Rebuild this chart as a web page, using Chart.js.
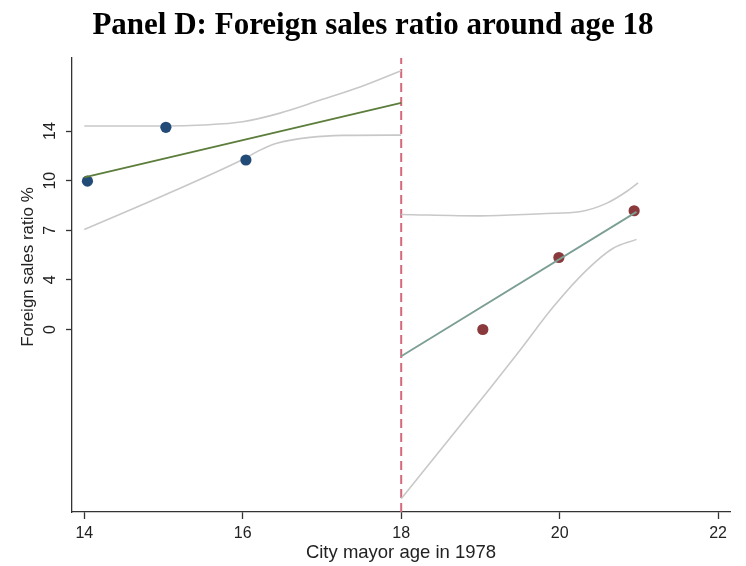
<!DOCTYPE html>
<html>
<head>
<meta charset="utf-8">
<title>Foreign sales ratio around age 18</title>
<script src="https://cdn.jsdelivr.net/npm/chart.js@4"></script>
<style>
  html, body { margin: 0; padding: 0; background: #fff; }
  #wrap { width: 746px; height: 566px; }
</style>
</head>
<body>
<div id="wrap"><canvas id="rdChart"></canvas></div>
<script>
// binned means, left and right of the cutoff
const ageLeft = [14.04, 15.03, 16.04];
const ratioLeft = [10.47, 14.27, 11.96];
const ageRight = [19.03, 19.99, 20.94];
const ratioRight = [0.0, 5.08, 8.38];

// linear fits on each side
const fitLeftAge = [14, 18];
const fitLeftRatio = [10.73, 16.0];
const fitRightAge = [18, 20.97];
const fitRightRatio = [-1.89, 8.3];

// confidence bands
const ciLeftUpperAge = [14, 15, 15.5, 16, 16.47, 16.98, 17.48, 18];
const ciLeftUpper = [14.36, 14.36, 14.43, 14.66, 15.27, 16.19, 17.11, 18.26];
const ciLeftLowerAge = [14, 15, 16, 16.22, 16.43, 16.85, 17.27, 18];
const ciLeftLower = [7.06, 9.46, 12.0, 12.66, 13.14, 13.56, 13.7, 13.72];
const ciRightUpperAge = [18, 19, 19.83, 20.25, 20.59, 20.84, 20.99];
const ciRightUpper = [8.12, 8.02, 8.19, 8.31, 8.9, 9.72, 10.35];
const ciRightLowerAge = [18, 19.12, 19.5, 19.92, 20.34, 20.67, 20.97];
const ciRightLower = [-11.94, -4.17, -1.46, 1.6, 4.19, 5.72, 6.36];

const cutoff = 18;

const xTicks = [14, 16, 18, 20, 22];
const yTicks = [0, 3.5, 7, 10.5, 14];
const yTickLabels = ['0', '4', '7', '10', '14'];

const X_MIN = 13.845, X_MAX = 22.15;
const Y_MIN = -12.88, Y_MAX = 19.16;

const SANS = '"Liberation Sans", Arial, sans-serif';

const pts = (xs, ys) => xs.map((x, i) => ({ x: x, y: ys[i] }));

const lineSet = (data, color, width) => ({
  data: data,
  showLine: true,
  borderColor: color,
  borderWidth: width,
  pointRadius: 0,
  cubicInterpolationMode: 'monotone',
  fill: false
});

const dotSet = (data, color) => ({
  data: data,
  showLine: false,
  backgroundColor: color,
  borderColor: color,
  borderWidth: 0,
  pointRadius: 5.6
});

// rotated y tick labels and the y title, drawn by hand
// (Chart.js won't rotate vertical tick labels)
const yLabelsPlugin = {
  id: 'yLabels',
  afterDraw(chart) {
    const ctx = chart.ctx;
    const y = chart.scales.y;
    ctx.save();
    ctx.fillStyle = '#222';
    ctx.textAlign = 'center';
    ctx.textBaseline = 'middle';
    ctx.font = '16px ' + SANS;
    yTicks.forEach((v, i) => {
      ctx.save();
      ctx.translate(51, y.getPixelForValue(v));
      ctx.rotate(-Math.PI / 2);
      ctx.fillText(yTickLabels[i], 0, 0);
      ctx.restore();
    });
    ctx.font = '17px ' + SANS;
    ctx.translate(28, 267);
    ctx.rotate(-Math.PI / 2);
    ctx.fillText('Foreign sales ratio %', 0, 0);
    ctx.restore();
  }
};

const cutoffSet = {
  data: [{ x: cutoff, y: Y_MIN }, { x: cutoff, y: Y_MAX }],
  showLine: true,
  borderColor: '#d4697b',
  borderWidth: 2,
  borderDash: [9, 5],
  pointRadius: 0
};

new Chart(document.getElementById('rdChart'), {
  type: 'scatter',
  data: {
    datasets: [
      lineSet(pts(fitLeftAge, fitLeftRatio), '#5c7d3b', 1.8),
      lineSet(pts(fitRightAge, fitRightRatio), '#7c9f95', 1.8),
      dotSet(pts(ageLeft, ratioLeft), '#234b78'),
      dotSet(pts(ageRight, ratioRight), '#8a3a3d'),
      lineSet(pts(ciLeftUpperAge, ciLeftUpper), '#c8c8c8', 1.6),
      lineSet(pts(ciLeftLowerAge, ciLeftLower), '#c8c8c8', 1.6),
      lineSet(pts(ciRightUpperAge, ciRightUpper), '#c8c8c8', 1.6),
      lineSet(pts(ciRightLowerAge, ciRightLower), '#c8c8c8', 1.6),
      cutoffSet
    ]
  },
  options: {
    responsive: true,
    maintainAspectRatio: false,
    animation: false,
    layout: { padding: { left: 16, right: 16, top: 0, bottom: 0 } },
    plugins: {
      legend: { display: false },
      tooltip: { enabled: false },
      title: {
        display: true,
        text: 'Panel D: Foreign sales ratio around age 18',
        color: '#000',
        font: { family: '"Liberation Serif", serif', size: 31, weight: 'bold' },
        padding: { top: 7, bottom: 13.8 }
      }
    },
    scales: {
      x: {
        type: 'linear',
        min: X_MIN,
        max: X_MAX,
        afterBuildTicks: s => { s.ticks = xTicks.map(v => ({ value: v })); },
        afterFit: s => { s.height = 54; },
        border: { color: '#333', width: 1.3 },
        grid: { drawOnChartArea: false, tickLength: 7, color: '#333', tickWidth: 1.3 },
        ticks: {
          color: '#222',
          padding: 5,
          maxRotation: 0,
          font: { family: SANS, size: 16 }
        },
        title: {
          display: true,
          text: 'City mayor age in 1978',
          color: '#222',
          padding: { top: 0, bottom: 2 },
          font: { family: SANS, size: 18.5 }
        }
      },
      y: {
        type: 'linear',
        min: Y_MIN,
        max: Y_MAX,
        afterBuildTicks: s => { s.ticks = yTicks.map(v => ({ value: v })); },
        afterFit: s => { s.width = 56; },
        border: { color: '#333', width: 1.3 },
        grid: { drawOnChartArea: false, tickLength: 6, color: '#333', tickWidth: 1.3 },
        ticks: {
          color: 'transparent',
          font: { family: SANS, size: 16 }
        }
      }
    }
  },
  plugins: [yLabelsPlugin]
});
</script>
</body>
</html>
